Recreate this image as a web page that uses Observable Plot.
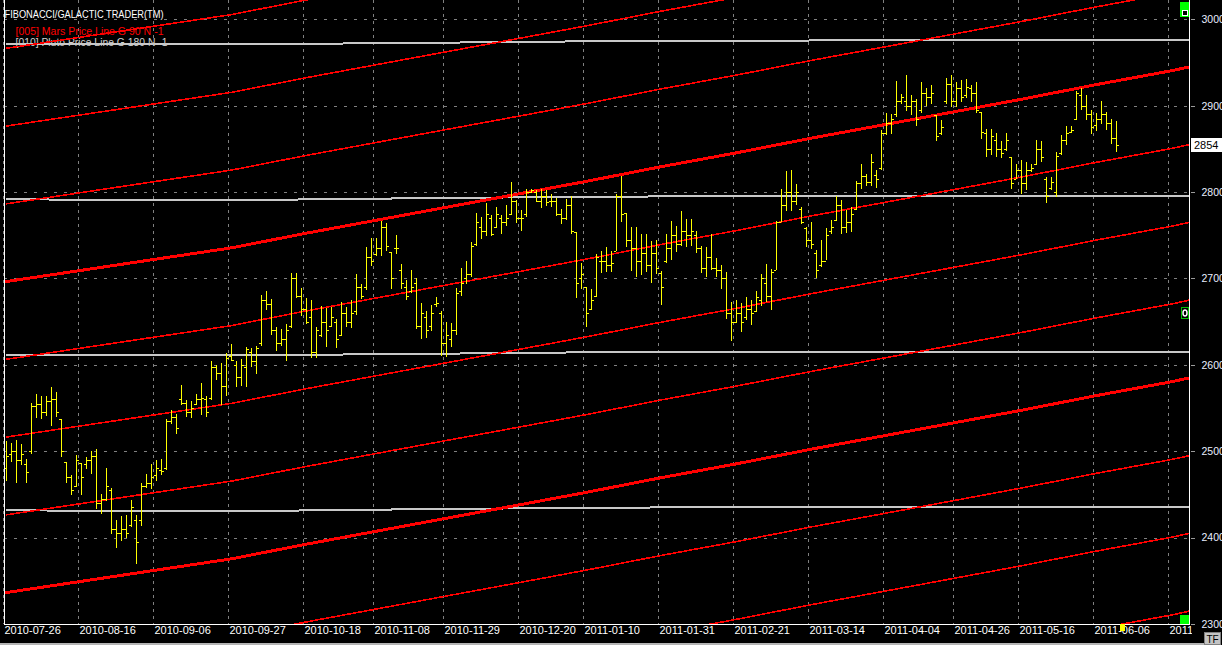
<!DOCTYPE html>
<html><head><meta charset="utf-8">
<script src="https://cdn.jsdelivr.net/npm/d3@7"></script>
<script src="https://cdn.jsdelivr.net/npm/@observablehq/plot@0.6"></script>
<style>html,body{margin:0;padding:0;background:#000;overflow:hidden}</style>
</head><body><div id="chart"></div>
<script>
// ---------- data ----------
const holidays = ["2010-11-01","2010-11-25","2010-12-24","2010-12-31","2011-04-22","2011-04-25","2011-05-02"];
const tickDates = ["2010-07-26","2010-08-16","2010-09-06","2010-09-27","2010-10-18","2010-11-08","2010-11-29","2010-12-20","2011-01-10","2011-01-31","2011-02-21","2011-03-14","2011-04-04","2011-04-26","2011-05-16","2011-06-06","2011-06-27"];
const yTicks = [2300,2400,2500,2600,2700,2800,2900,3000];

const high = [
2512,2510,2513,2508,2491,2556,2566,2564,2564,2574,
2569,2537,2488,2472,2496,2486,2493,2500,2503,2451,
2481,2457,2420,2425,2426,2444,2426,2463,2474,2485,
2490,2491,2537,2548,2543,2577,2559,2558,2566,2579,
2564,2604,2600,2602,2614,2624,2604,2607,2621,2620,
2622,2681,2686,2676,2644,2641,2647,2706,2706,2689,
2677,2675,2644,2668,2666,2667,2653,2673,2667,2675,
2705,2693,2736,2747,2747,2766,2764,2731,2750,2717,
2698,2710,2700,2671,2662,2669,2679,2662,2650,2648,
2689,2712,2720,2742,2776,2771,2787,2773,2783,2774,
2785,2812,2791,2779,2804,2804,2802,2803,2802,2798,
2793,2780,2792,2796,2754,2718,2690,2688,2728,2732,
2736,2732,2798,2819,2776,2760,2759,2751,2751,2743,
2744,2709,2751,2766,2761,2778,2769,2769,2755,2738,
2736,2751,2724,2715,2707,2673,2675,2671,2679,2675,
2685,2705,2717,2711,2767,2803,2824,2825,2809,2783,
2760,2765,2733,2744,2758,2768,2795,2791,2779,2783,
2813,2832,2821,2844,2826,2872,2892,2890,2929,2914,
2936,2912,2908,2927,2920,2924,2889,2883,2932,2935,
2927,2930,2931,2924,2927,2893,2873,2873,2868,2859,
2868,2841,2833,2837,2835,2832,2860,2859,2817,2817,
2846,2866,2877,2877,2917,2920,2912,2895,2892,2905,
2893,2885,2882];
const low = [
2466,2488,2463,2484,2463,2497,2539,2537,2541,2529,
2540,2493,2463,2449,2459,2449,2479,2474,2433,2427,
2442,2404,2388,2396,2400,2412,2370,2414,2457,2456,
2465,2472,2478,2531,2520,2554,2540,2539,2553,2542,
2540,2559,2582,2554,2564,2604,2574,2576,2574,2598,
2589,2622,2663,2634,2616,2622,2604,2643,2677,2657,
2647,2608,2608,2632,2621,2644,2619,2633,2644,2643,
2658,2676,2687,2714,2726,2726,2732,2688,2728,2688,
2675,2683,2641,2630,2631,2639,2667,2610,2609,2621,
2635,2680,2694,2702,2737,2746,2749,2749,2758,2752,
2761,2773,2764,2755,2771,2799,2788,2782,2784,2783,
2772,2763,2768,2752,2677,2688,2644,2664,2678,2706,
2707,2707,2732,2765,2736,2709,2702,2704,2707,2695,
2705,2669,2718,2721,2731,2738,2736,2738,2729,2706,
2702,2710,2702,2688,2653,2628,2648,2638,2652,2646,
2661,2668,2673,2664,2710,2765,2778,2778,2785,2763,
2736,2734,2701,2713,2721,2751,2767,2751,2753,2754,
2779,2804,2807,2807,2805,2825,2866,2867,2887,2902,
2894,2889,2877,2891,2900,2902,2859,2866,2902,2898,
2898,2904,2909,2904,2892,2861,2841,2843,2840,2839,
2848,2803,2815,2798,2802,2823,2831,2835,2787,2802,
2794,2843,2854,2868,2883,2895,2883,2867,2871,2879,
2872,2856,2846];
const open = [
2480,2497,2500,2490,2485,2500,2552,2555,2545,2558,
2560,2537,2488,2470,2460,2486,2485,2490,2495,2440,
2445,2455,2410,2405,2410,2415,2420,2420,2460,2463,
2472,2478,2480,2535,2540,2560,2556,2545,2555,2560,
2560,2562,2598,2590,2575,2610,2600,2586,2598,2615,
2605,2625,2675,2670,2640,2625,2630,2645,2700,2680,
2665,2655,2615,2635,2650,2645,2650,2635,2660,2650,
2662,2690,2690,2725,2728,2735,2760,2731,2735,2710,
2690,2685,2695,2645,2655,2645,2670,2660,2625,2630,
2640,2685,2700,2705,2740,2760,2755,2770,2760,2770,
2765,2775,2790,2770,2775,2800,2800,2790,2795,2790,
2790,2775,2770,2785,2754,2700,2690,2665,2680,2720,
2720,2715,2732,2795,2776,2745,2735,2720,2730,2715,
2730,2706,2720,2735,2750,2740,2755,2750,2750,2735,
2712,2725,2712,2710,2700,2660,2650,2660,2655,2665,
2662,2675,2695,2680,2710,2765,2785,2800,2790,2780,
2758,2745,2730,2715,2720,2755,2768,2785,2760,2765,
2780,2810,2818,2812,2820,2828,2868,2880,2890,2905,
2905,2900,2905,2895,2915,2910,2889,2868,2905,2925,
2905,2920,2912,2920,2915,2893,2868,2850,2860,2850,
2850,2840,2815,2825,2810,2825,2832,2850,2815,2805,
2800,2845,2860,2870,2885,2912,2900,2890,2878,2885,
2890,2880,2862];
const close = [
2495,2500,2490,2497,2476,2552,2555,2545,2558,2560,
2545,2500,2470,2455,2490,2470,2490,2495,2440,2445,
2460,2410,2405,2410,2405,2435,2395,2460,2463,2470,
2480,2477,2535,2540,2527,2556,2545,2550,2560,2562,
2545,2598,2590,2575,2608,2606,2586,2600,2618,2605,
2620,2675,2670,2640,2625,2630,2640,2700,2680,2665,
2650,2615,2640,2650,2640,2655,2630,2660,2650,2660,
2690,2680,2725,2720,2735,2760,2738,2700,2735,2695,
2680,2690,2645,2660,2640,2660,2672,2625,2635,2640,
2683,2695,2705,2738,2765,2755,2775,2752,2775,2765,
2770,2790,2770,2770,2800,2802,2790,2795,2788,2790,
2775,2770,2785,2755,2695,2705,2660,2675,2725,2720,
2715,2718,2795,2775,2745,2735,2720,2730,2715,2730,
2712,2690,2735,2750,2740,2755,2750,2755,2735,2712,
2725,2712,2710,2700,2660,2650,2660,2650,2665,2660,
2678,2700,2680,2708,2765,2785,2800,2790,2800,2765,
2745,2740,2710,2720,2750,2760,2785,2760,2765,2775,
2810,2818,2812,2835,2815,2868,2880,2885,2905,2910,
2900,2905,2885,2915,2910,2915,2865,2875,2925,2905,
2920,2910,2922,2915,2895,2870,2850,2865,2850,2845,
2860,2810,2825,2810,2825,2828,2850,2840,2795,2812,
2842,2860,2868,2872,2915,2900,2890,2875,2885,2890,
2880,2862,2854];

// Mars price line (G 90) read at the grid dates, plus the right edge
const lineDates = tickDates.concat(["2011-07-01"]);
const marsBase = [2697,2710,2723,2736,2753,2768,2783,2799,2813,2830,2846,2863,2879,2894,2908,2925,2941,2946];
const marsOffsets = [270,180,90,0,-90,-180,-270,-360,-450,-540,-630];
// Pluto price line (G 180)
const plutoBase = [2972.5,2971.5,2971.5,2971.5,2972,2973,2973.5,2974.5,2975,2975.5,2975.5,2976,2976,2976,2976,2976,2976,2976];
const plutoOffsets = [0,-180,-360,-540];

const title = "FIBONACCI/GALACTIC TRADER(TM)";
const legend1 = "[005] Mars Price Line G 90 N -1";
const legend2 = "[010] Pluto Price Line G 180 N -1";

// ---------- build tables ----------
const fmt = d3.utcFormat("%Y-%m-%d");
const allDates = d3.utcDays(new Date("2010-07-26"), new Date("2011-07-02"))
  .filter(d => d.getUTCDay() % 6 !== 0).map(fmt).filter(s => !holidays.includes(s));
const bars = high.map((h, i) => ({date: allDates[i], open: open[i], high: h, low: low[i], close: close[i]}));
const marsRows = marsOffsets.flatMap(off => lineDates.map((d, i) => ({date: d, price: marsBase[i] + off, off})));
const plutoRows = plutoOffsets.flatMap(off => lineDates.map((d, i) => ({date: d, price: plutoBase[i] + off, off})));

const decor = (index, scales) => {
  const y = scales.y;
  const g = d3.create("svg:g").attr("text-anchor", "start");
  g.append("line").attr("x1", 4.5).attr("x2", 4.5).attr("y1", 0).attr("y2", 625).attr("stroke", "#fff");
  g.append("line").attr("x1", 1189.5).attr("x2", 1189.5).attr("y1", 0).attr("y2", 625).attr("stroke", "#fff");
  g.append("line").attr("x1", 4).attr("x2", 1190).attr("y1", 624.5).attr("y2", 624.5).attr("stroke", "#fff");
  for (const t of yTicks) {
    const yy = Math.round(y(t)) + 0.5;
    g.append("line").attr("x1", 1191).attr("x2", 1195).attr("y1", yy).attr("y2", yy).attr("stroke", "#9a9a9a");
  }
  const last = close[close.length - 1];
  const yc = y(last);
  g.append("rect").attr("x", 1191).attr("y", Math.round(yc - 7)).attr("width", 31).attr("height", 14).attr("fill", "#fff");
  g.append("text").attr("x", 1194).attr("y", yc).attr("dy", "0.36em").attr("text-anchor", "start").attr("fill", "#000").attr("font-size", 11).text(last);
  // UI boxes
  g.append("rect").attr("x", 1180).attr("y", 2).attr("width", 9).attr("height", 15).attr("fill", "#00ff00");
  g.append("rect").attr("x", 1182.5).attr("y", 10.5).attr("width", 5).attr("height", 5).attr("fill", "#000").attr("stroke", "#fff");
  g.append("rect").attr("x", 1180).attr("y", 615).attr("width", 9).attr("height", 9).attr("fill", "#00ff00");
  g.append("rect").attr("x", 1181.5).attr("y", 307.5).attr("width", 7).attr("height", 11).attr("fill", "#000").attr("stroke", "#00c000");
  g.append("ellipse").attr("cx", 1185).attr("cy", 313).attr("rx", 2).attr("ry", 3).attr("fill", "none").attr("stroke", "#fff").attr("stroke-width", 1.5);
  g.append("rect").attr("x", 1120).attr("y", 624).attr("width", 5).attr("height", 7).attr("fill", "#ffff00");
  g.append("rect").attr("x", 0).attr("y", 643).attr("width", 1204).attr("height", 2).attr("fill", "#b4b4b4");
  g.append("rect").attr("x", 1204.5).attr("y", 632.5).attr("width", 16).attr("height", 12).attr("fill", "#c4c4c4").attr("stroke", "#808080");
  g.append("text").attr("x", 1212.5).attr("y", 639).attr("dy", "0.36em").attr("text-anchor", "middle").attr("fill", "#000").attr("font-size", 10).text("TF");
  return g.node();
};

const chart = Plot.plot({
  width: 1222, height: 645,
  marginLeft: 4, marginRight: 33, marginTop: 0, marginBottom: 21,
  style: {background: "#000", fontFamily: "'Liberation Sans', Arial, sans-serif", fontSize: "11px"},
  x: {type: "band", domain: allDates, range: [3.5, 1193.5], padding: 0, round: false, axis: null},
  y: {domain: [2300, 3022.3], range: [624, 0], axis: null},
  marks: [
    Plot.ruleY(yTicks, {y: d => d, stroke: "#808080", strokeDasharray: "3,7", shapeRendering: "crispEdges"}),
    Plot.ruleX(tickDates, {x: d => d, stroke: "#808080", strokeDasharray: "3,4", dx: -3, shapeRendering: "crispEdges"}),
    Plot.text([title], {text: d => d, frameAnchor: "top-left", dx: 0, dy: 10, textAnchor: "start", fill: "#ffffff"}),
    Plot.text([legend1], {text: d => d, frameAnchor: "top-left", dx: 11, dy: 27, textAnchor: "start", fill: "#ff0000"}),
    Plot.text([legend2], {text: d => d, frameAnchor: "top-left", dx: 11, dy: 38, textAnchor: "start", fill: "#d0d0d0"}),
    Plot.line(plutoRows, {x: "date", y: "price", z: "off", stroke: "#c8c8c8", strokeWidth: 2, clip: true, shapeRendering: "crispEdges"}),
    Plot.line(marsRows.filter(r => r.off % 360 !== 0), {x: "date", y: "price", z: "off", stroke: "#ff0000", strokeWidth: 1.6, clip: true, shapeRendering: "crispEdges"}),
    Plot.line(marsRows.filter(r => r.off % 360 === 0), {x: "date", y: "price", z: "off", stroke: "#ff0000", strokeWidth: 3, clip: true, shapeRendering: "crispEdges"}),
    Plot.ruleX(bars, {x: "date", y1: "low", y2: "high", stroke: "#ffff00", shapeRendering: "crispEdges"}),
    Plot.tickY(bars, {x: "date", y: "open", stroke: "#ffff00", insetLeft: 0, insetRight: 2.5, shapeRendering: "crispEdges"}),
    Plot.tickY(bars, {x: "date", y: "close", stroke: "#ffff00", insetLeft: 2.5, insetRight: 0, shapeRendering: "crispEdges"}),
    Plot.text(yTicks, {y: d => d, text: d => String(d), frameAnchor: "right", dx: 12, textAnchor: "start", fill: "#e8eeff", fontSize: 10.5}),
    Plot.text(tickDates, {x: d => d, text: d => d, frameAnchor: "bottom", dy: 9, dx: -2, textAnchor: "start", fill: "#ffffff"}),
    decor
  ]
});

// clip the last x label at the right panel and compress legend widths
const ns = "http://www.w3.org/2000/svg";
const defs = document.createElementNS(ns, "defs");
const cp = document.createElementNS(ns, "clipPath");
cp.setAttribute("id", "xlabclip");
cp.setAttribute("clipPathUnits", "userSpaceOnUse");
const cr = document.createElementNS(ns, "rect");
cr.setAttribute("x", 0); cr.setAttribute("y", 600); cr.setAttribute("width", 1191); cr.setAttribute("height", 45);
cp.appendChild(cr); defs.appendChild(cp); chart.insertBefore(defs, chart.firstChild);
const lens = {[title]: 159, [legend1]: 148, [legend2]: 152};
chart.querySelectorAll("text").forEach(t => {
  const s = t.textContent;
  if (lens[s]) { t.setAttribute("textLength", lens[s]); t.setAttribute("lengthAdjust", "spacingAndGlyphs"); }
  if (s === tickDates[tickDates.length - 1]) {
    const wrap = document.createElementNS(ns, "g");
    wrap.setAttribute("clip-path", "url(#xlabclip)");
    t.parentNode.insertBefore(wrap, t);
    wrap.appendChild(t);
  }
});
document.getElementById("chart").appendChild(chart);
</script></body></html>
